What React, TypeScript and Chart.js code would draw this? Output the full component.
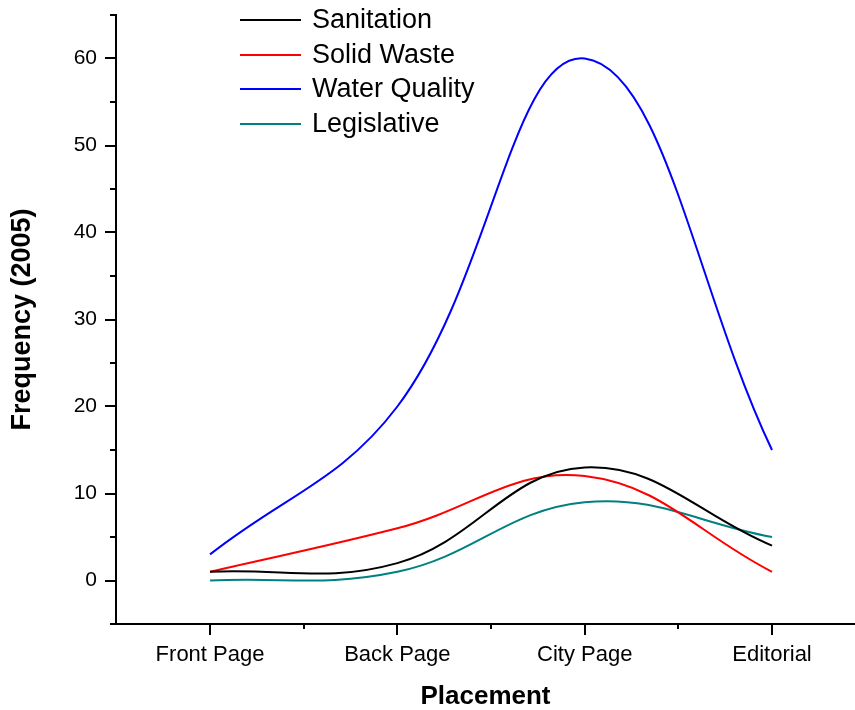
import React, { useEffect, useRef } from 'react';
import { Chart, registerables } from 'chart.js';

Chart.register(...registerables);

const categories = ['Front Page', 'Back Page', 'City Page', 'Editorial'];
const seriesNames = ['Sanitation', 'Solid Waste', 'Water Quality', 'Legislative'];
const seriesColors = ['#000000', '#ff0000', '#0000ff', '#008080'];
const sanitation = [1, 2, 13, 4];
const solidWaste = [1, 6, 12, 1];
const waterQuality = [3, 20, 60, 15];
const legislative = [0, 1, 9, 5];
const yTickValues = [-5, 0, 5, 10, 15, 20, 25, 30, 35, 40, 45, 50, 55, 60, 65];
const yLabeledValues = [0, 10, 20, 30, 40, 50, 60];
const xTickValues = [0, 1, 2, 3];
const xMinorValues = [0.5, 1.5, 2.5];

const FONT = '"Liberation Sans", Arial, Helvetica, sans-serif';

const axisTicksPlugin = {
  id: 'axisTicks',
  afterDraw(chart: any) {
    const ctx = chart.ctx;
    const xs = chart.scales.x;
    const ys = chart.scales.y;
    const area = chart.chartArea;
    ctx.save();
    ctx.strokeStyle = '#000';
    ctx.lineWidth = 2;
    ctx.beginPath();
    yTickValues.forEach((v) => {
      const y = Math.round(ys.getPixelForValue(v));
      const len = yLabeledValues.includes(v) ? 11 : 6;
      ctx.moveTo(area.left, y);
      ctx.lineTo(area.left - len, y);
    });
    xTickValues.forEach((v) => {
      const x = Math.round(xs.getPixelForValue(v));
      ctx.moveTo(x, area.bottom);
      ctx.lineTo(x, area.bottom + 11);
    });
    xMinorValues.forEach((v) => {
      const x = Math.round(xs.getPixelForValue(v));
      ctx.moveTo(x, area.bottom);
      ctx.lineTo(x, area.bottom + 5);
    });
    ctx.stroke();
    ctx.restore();
  },
};

const legendPlugin = {
  id: 'customLegend',
  afterDraw(chart: any) {
    const ctx = chart.ctx;
    const area = chart.chartArea;
    const x0 = area.left + 124;
    const rowH = 34.6;
    const top = 20;
    ctx.save();
    ctx.font = `27px ${FONT}`;
    ctx.textBaseline = 'middle';
    ctx.textAlign = 'left';
    chart.data.datasets.forEach((ds: any, i: number) => {
      const y = Math.round(top + i * rowH);
      ctx.strokeStyle = ds.borderColor;
      ctx.lineWidth = 2;
      ctx.beginPath();
      ctx.moveTo(x0, y);
      ctx.lineTo(x0 + 61, y);
      ctx.stroke();
      ctx.fillStyle = '#000';
      ctx.fillText(ds.label, x0 + 72, y + 1);
    });
    ctx.restore();
  },
};

export default function App() {
  const ref = useRef<HTMLCanvasElement | null>(null);

  useEffect(() => {
    if (!ref.current) return;
    const seriesData = [sanitation, solidWaste, waterQuality, legislative];
    const chart = new Chart(ref.current, {
      type: 'line',
      data: {
        datasets: seriesData.map((vals, i) => ({
          label: seriesNames[i],
          data: vals.map((v, j) => ({ x: j, y: v })),
          borderColor: seriesColors[i],
          backgroundColor: seriesColors[i],
          borderWidth: 2,
          pointRadius: 0,
          tension: 0.4,
          fill: false,
        })),
      },
      options: {
        responsive: false,
        animation: false,
        layout: { padding: { top: 15, left: 0, right: 0, bottom: 0 } },
        plugins: {
          legend: { display: false },
          tooltip: { enabled: false },
        },
        scales: {
          x: {
            type: 'linear',
            min: -0.502,
            max: 3.443,
            afterBuildTicks: (scale: any) => {
              scale.ticks = xTickValues.map((v) => ({ value: v }));
            },
            afterFit: (scale: any) => {
              scale.height = 86;
            },
            grid: { display: false, drawTicks: false },
            border: { display: true, color: '#000', width: 2 },
            ticks: {
              autoSkip: false,
              maxRotation: 0,
              padding: 18,
              color: '#000',
              font: { family: FONT, size: 22 },
              callback: (v: any) => categories[Math.round(Number(v))] ?? '',
            },
            title: {
              display: true,
              text: 'Placement',
              color: '#000',
              font: { family: FONT, size: 26, weight: 'bold', lineHeight: 1 },
              padding: { top: 0, bottom: 0 },
            },
          },
          y: {
            type: 'linear',
            min: -5,
            max: 65,
            afterBuildTicks: (scale: any) => {
              scale.ticks = yTickValues.map((v) => ({ value: v }));
            },
            afterFit: (scale: any) => {
              scale.width = 116;
              scale.paddingTop = 0;
              scale.paddingBottom = 0;
            },
            grid: { display: false, drawTicks: false },
            border: { display: true, color: '#000', width: 2 },
            ticks: {
              autoSkip: false,
              padding: 19,
              color: '#000',
              font: { family: FONT, size: 21 },
              callback: (v: any) => (yLabeledValues.includes(Number(v)) ? String(v) : ''),
            },
            title: {
              display: true,
              text: 'Frequency (2005)',
              color: '#000',
              font: { family: FONT, size: 27, weight: 'bold', lineHeight: 1 },
              padding: { top: 9, bottom: 0 },
            },
          },
        },
      },
      plugins: [axisTicksPlugin, legendPlugin],
    });
    return () => chart.destroy();
  }, []);

  return (
    <div style={{ position: 'fixed', left: 0, top: 0, width: 855, height: 710, overflow: 'hidden', background: '#fff' }}>
      <canvas ref={ref} width={855} height={710} style={{ display: 'block', width: 855, height: 710 }} />
    </div>
  );
}
